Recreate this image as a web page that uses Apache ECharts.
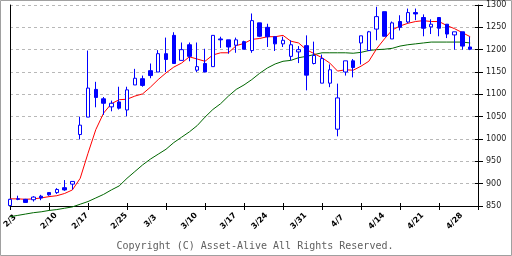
<!DOCTYPE html>
<html><head><meta charset="utf-8">
<script src="https://cdn.jsdelivr.net/npm/echarts@6/dist/echarts.min.js"></script>
<style>html,body{margin:0;padding:0;background:#fff}#c{width:512px;height:256px}</style>
</head><body><div id="c"></div>
<script>
const dates = ['2/3','2/4','2/5','2/6','2/7','2/10','2/12','2/13','2/14','2/17','2/18','2/19','2/20','2/21','2/25','2/26','2/27','2/28',
'3/3','3/4','3/5','3/6','3/7','3/10','3/11','3/12','3/13','3/14','3/17','3/18','3/19','3/21','3/24','3/25','3/26','3/27','3/28','3/31',
'4/1','4/2','4/3','4/4','4/7','4/8','4/9','4/10','4/11','4/14','4/15','4/16','4/17','4/18','4/21','4/22','4/23','4/24','4/25','4/28','4/30','5/1'];
const open  = [851,866,865,864,872,880,880,891,899,1010,1049,1111,1090,1072,1083,1065,1121,1135,1153,1150,1191,1232,1176,1211,1154,1169,1162,1224,1222,1210,1218,1198,1260,1250,1229,1213,1185,1195,1209,1169,1125,1125,1022,1150,1175,1215,1198,1246,1285,1224,1263,1262,1283,1272,1251,1272,1257,1233,1240,1206];
const close = [865,865,858,870,868,875,887,886,905,1031,1114,1093,1080,1080,1069,1110,1136,1120,1142,1191,1178,1169,1200,1185,1162,1150,1232,1222,1206,1222,1201,1265,1230,1229,1213,1221,1211,1200,1143,1187,1180,1155,1092,1175,1160,1231,1240,1274,1230,1260,1250,1283,1280,1248,1257,1248,1235,1240,1208,1201];
const low   = [850,863,857,860,863,873,877,884,887,999,1049,1071,1054,1062,1066,1051,1121,1117,1136,1150,1150,1169,1176,1174,1150,1150,1162,1204,1191,1193,1201,1193,1228,1206,1197,1206,1176,1170,1109,1167,1125,1116,1006,1142,1138,1167,1198,1221,1230,1224,1243,1259,1266,1230,1235,1230,1226,1200,1200,1199];
const high  = [866,873,866,872,875,881,890,908,905,1050,1198,1128,1094,1086,1117,1117,1157,1142,1169,1199,1227,1239,1216,1216,1216,1202,1232,1229,1222,1227,1220,1281,1260,1258,1229,1229,1221,1208,1232,1218,1189,1167,1124,1175,1179,1231,1242,1296,1285,1263,1277,1292,1292,1279,1268,1272,1257,1240,1240,1229];
const ma5   = [866,866,865,866,868,871,873,878,886,912,968,1021,1058,1079,1088,1089,1096,1101,1116,1133,1148,1161,1170,1184,1179,1174,1188,1193,1193,1209,1214,1223,1225,1229,1229,1232,1219,1215,1200,1191,1182,1170,1152,1155,1154,1163,1174,1202,1224,1244,1253,1259,1263,1265,1263,1263,1254,1247,1238,1229];
const ma25  = [826,829,832,835,837,840,842,845,848,854,860,868,876,886,895,912,927,942,955,966,977,992,1004,1016,1030,1049,1066,1079,1096,1111,1121,1133,1147,1159,1168,1174,1176,1182,1185,1189,1193,1193,1193,1193,1192,1194,1198,1200,1201,1203,1208,1211,1213,1215,1217,1217,1217,1217,1217,1215];
const tickLabels = ['2/3','2/10','2/17','2/25','3/3','3/10','3/17','3/24','3/31','4/7','4/14','4/21','4/28'];
const yMin = 850, yMax = 1300, yStep = 50;
const copyright = 'Copyright (C) Asset-Alive All Rights Reserved.';

const cats = dates.concat(['']);
const ohlc = open.map((o, i) => [o, close[i], low[i], high[i]]);
const every5 = (i) => i % 5 === 0;

const chart = echarts.init(document.getElementById('c'), null, {renderer: 'canvas'});
chart.setOption({
  animation: false,
  backgroundColor: '#fff',
  grid: {left: 10, right: 34, top: 5, bottom: 50, containLabel: false},
  xAxis: [{
    type: 'category', data: cats, boundaryGap: false, position: 'bottom',
    axisLine: {show: true, lineStyle: {color: '#000', width: 1}},
    axisTick: {show: true, interval: every5, length: 4, inside: false, lineStyle: {color: '#000'}},
    axisLabel: {
      show: true, interval: (i, v) => tickLabels.indexOf(v) >= 0,
      rotate: 45, align: 'center', verticalAlign: 'middle', margin: 15,
      fontFamily: 'DejaVu Sans', fontSize: 8, fontWeight: 'bold', color: '#000'
    },
    splitLine: {show: false}
  }, {
    type: 'category', data: cats, boundaryGap: false, position: 'bottom',
    axisLine: {show: false},
    axisTick: {show: true, interval: every5, length: 3, inside: true, lineStyle: {color: '#000'}},
    axisLabel: {show: false}, splitLine: {show: false}
  }],
  yAxis: [{
    type: 'value', min: yMin, max: yMax, interval: yStep, position: 'right',
    axisLine: {show: true, lineStyle: {color: '#000'}},
    axisTick: {show: true, length: 5, inside: false, lineStyle: {color: '#000'}},
    axisLabel: {show: true, margin: 8, fontFamily: 'DejaVu Sans', fontSize: 8, color: '#222',
      formatter: (v) => String(v)},
    splitLine: {show: true, lineStyle: {color: '#b8b8b8', type: [3, 3], width: 1}}
  }, {
    type: 'value', min: yMin, max: yMax, interval: yStep, position: 'left',
    axisLine: {show: true, lineStyle: {color: '#000'}},
    axisTick: {show: false}, axisLabel: {show: false}, splitLine: {show: false}
  }, {
    type: 'value', min: yMin, max: yMax, interval: yStep, position: 'right',
    axisLine: {show: false},
    axisTick: {show: true, length: 3, inside: true, lineStyle: {color: '#000'}},
    axisLabel: {show: false}, splitLine: {show: false}
  }],
  series: [{
    type: 'line', data: ma25, xAxisIndex: 0, yAxisIndex: 0, symbol: 'none', clip: false,
    lineStyle: {color: '#006600', width: 1}, z: 2
  }, {
    type: 'line', data: ma5, xAxisIndex: 0, yAxisIndex: 0, symbol: 'none',
    lineStyle: {color: '#ff0000', width: 1}, z: 3
  }, {
    type: 'candlestick', data: ohlc, xAxisIndex: 0, yAxisIndex: 0, barWidth: 4, z: 4,
    itemStyle: {color: '#ffffff', color0: '#0000ff', borderColor: '#0000ff', borderColor0: '#0000ff', borderWidth: 1}
  }],
  graphic: [{
    type: 'rect', shape: {x: 0.5, y: 0.5, width: 511, height: 255},
    style: {fill: 'none', stroke: '#a0a0a0', lineWidth: 1}, silent: true
  }, {
    type: 'text', x: 255, y: 246,
    style: {text: copyright, textAlign: 'center', textVerticalAlign: 'middle',
      font: '10px "DejaVu Sans Mono"', fill: '#606060'}
  }]
});
</script>
</body></html>
